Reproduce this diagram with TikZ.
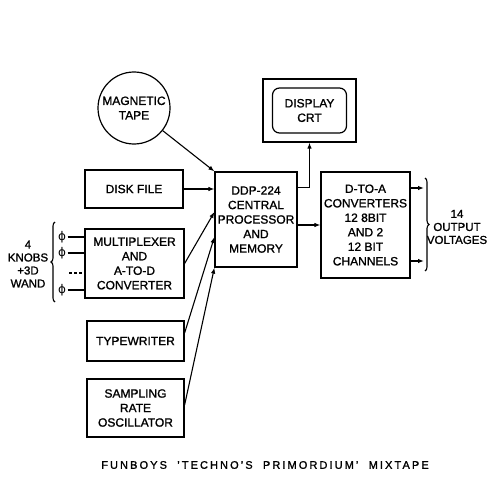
\documentclass[tikz,border=0pt]{standalone}
\usepackage{fontspec}
\setmainfont[FakeBold=1.3]{Liberation Sans}
\newfontfamily\phifont{DejaVu Sans}
\usetikzlibrary{arrows.meta,decorations.pathreplacing}
\begin{document}
\begin{tikzpicture}[x=1pt,y=-1pt,
  every node/.style={inner sep=0pt, font=\fontsize{12}{14.5}\selectfont, align=center},
  box/.style={draw, line width=1.2pt, rectangle},
  arr/.style={line width=1.1pt, -{Latex[length=6pt,width=4.5pt]}},
  ln/.style={line width=1.1pt},
  lbl/.style={font=\fontsize{11.5}{13}\selectfont},
  phis/.style={font=\phifont\fontsize{12}{12}\selectfont}]
\useasboundingbox (0,0) rectangle (500,500);
% boxes
\node[box, circle, minimum size=72pt] (tape) at (134,108) {MAGNETIC\\TAPE};
\node[box, minimum width=98pt, minimum height=38pt] (disk) at (134,189) {DISK FILE};
\node[box, minimum width=99pt, minimum height=69pt] (mux) at (134.5,263.5) {MULTIPLEXER\\AND\\A-TO-D\\CONVERTER};
\node[box, minimum width=97pt, minimum height=40pt] (typ) at (135.5,341) {TYPEWRITER};
\node[box, minimum width=97pt, minimum height=58pt] (samp) at (135.5,408) {SAMPLING\\RATE\\OSCILLATOR};
\node[box, minimum width=82pt, minimum height=95pt] (cpu) at (256,219.5) {DDP-224\\CENTRAL\\PROCESSOR\\AND\\MEMORY};
\node[box, minimum width=93pt, minimum height=63pt] (crt) at (309.5,110.5) {};
\node[box, rounded corners=7pt, minimum width=74pt, minimum height=45pt] (crtin) at (309.5,110.5) {DISPLAY\\CRT};
\node[box, minimum width=89pt, minimum height=106pt] (dta) at (365.5,225) {D-TO-A\\CONVERTERS\\12 8BIT\\AND 2\\12 BIT\\CHANNELS};
% inputs
\node[lbl] (knobs) at (28,264) {4\\KNOBS\\+3D\\WAND};
\node[phis] (p1) at (62,237) {ɸ};
\node[phis] (p2) at (62,253) {ɸ};
\node[phis] (p3) at (62,290) {ɸ};
\coordinate (d1) at (69,273);
\draw[ln] ([xshift=1.5pt]p1.east) -- (p1 -| mux.west);
\draw[ln] ([xshift=1.5pt]p2.east) -- (p2 -| mux.west);
\draw[ln] ([xshift=1.5pt]p3.east) -- (p3 -| mux.west);
\draw[ln, dash pattern=on 3pt off 2pt] (d1) -- (d1 -| mux.west);
\coordinate (lb1) at (55,302);
\coordinate (lb2) at (55,222);
\draw[ln, decorate, decoration={brace, amplitude=4pt}] (lb1) -- (lb2);
% connectors to cpu
\draw[arr] (tape) -- (cpu.north west);
\draw[arr] (disk.east) -- (disk.east -| cpu.west);
\draw[arr] (mux.east) -- ([yshift=7.5pt]cpu.west);
\draw[arr] ([yshift=8pt]typ.east) -- ([yshift=-17.5pt]cpu.west);
\draw[arr] ([yshift=3pt]samp.east) -- (cpu.south west);
% outputs of cpu
\draw[arr] ([yshift=-16pt]cpu.north east) -| (crt.south);
\draw[arr] (cpu.east |- dta.west) -- (dta.west);
% outputs
\coordinate (o1) at (424,188);
\coordinate (o2) at (424,261);
\draw[arr] (o1 -| dta.east) -- (o1);
\draw[arr] (o2 -| dta.east) -- (o2);
\coordinate (rb1) at (425,178);
\coordinate (rb2) at (425,271);
\draw[ln, decorate, decoration={brace, amplitude=4pt}] (rb1) -- (rb2);
\node[lbl] (outl) at (457,227) {14\\OUTPUT\\VOLTAGES};
% caption
\node[font=\fontsize{11}{13}\selectfont\addfontfeature{LetterSpace=19}] (cap) at (265,465) {FUNBOYS\ \ 'TECHNO'S\ \ PRIMORDIUM'\ \ MIXTAPE};
\end{tikzpicture}
\end{document}
